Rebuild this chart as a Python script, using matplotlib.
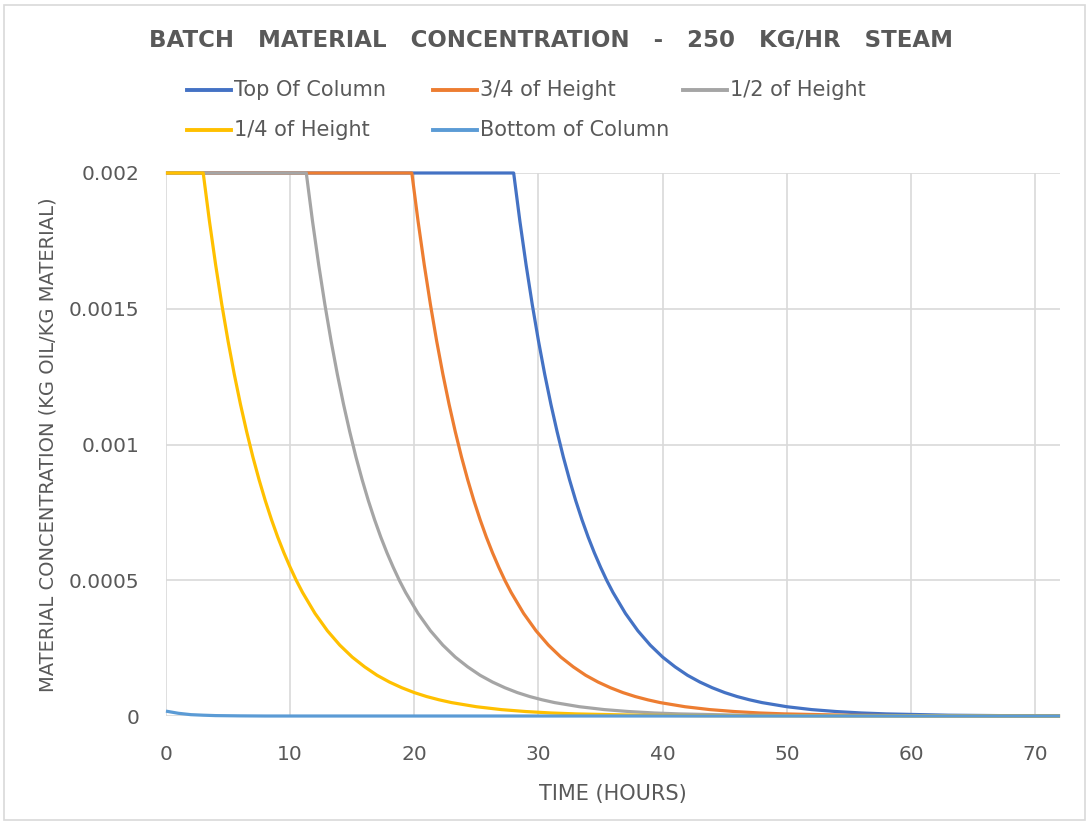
import matplotlib
matplotlib.use("Agg")
import matplotlib.pyplot as plt
from matplotlib.lines import Line2D
from matplotlib.patches import Rectangle

# Oil concentration in the batch material at five heights of the column (kg oil / kg material)
top_t = [0, 28.0, 28.5, 29.0, 29.5, 30.0, 30.5, 31.0, 31.5, 32.0, 32.5, 33.0, 33.5, 34.0, 34.5,
         35.0, 35.5, 36.0, 37.0, 38.0, 39.0, 40.0, 41.0, 42.0, 43.0, 44.0, 45.0, 46.0, 47.0,
         48.0, 50.0, 52.0, 54.0, 56.0, 58.0, 63.0, 68.0, 72.0]
top_c = [0.002, 0.002, 0.001823, 0.001662, 0.001515, 0.001381, 0.001259, 0.001148, 0.001047,
         0.000954, 0.000870, 0.000793, 0.000723, 0.000659, 0.000601, 0.000548, 0.000499,
         0.000455, 0.000378, 0.000314, 0.000261, 0.000217, 0.000181, 0.000150, 0.000125,
         0.000104, 0.0000862, 0.0000716, 0.0000596, 0.0000494, 0.0000342, 0.0000236,
         0.0000164, 0.0000112, 0.0000078, 0.0000030, 0.0000012, 0.0000005]

h34_t = [0, 19.8, 20.3, 20.8, 21.3, 21.8, 22.3, 22.8, 23.3, 23.8, 24.3, 24.8, 25.3, 25.8, 26.3,
         26.8, 27.3, 27.8, 28.8, 29.8, 30.8, 31.8, 32.8, 33.8, 34.8, 35.8, 36.8, 37.8, 38.8,
         39.8, 41.8, 43.8, 45.8, 47.8, 49.8, 54.8, 59.8, 72.0]
h34_c = [0.002, 0.002, 0.001823, 0.001662, 0.001515, 0.001381, 0.001259, 0.001148, 0.001047,
         0.000954, 0.000870, 0.000793, 0.000723, 0.000659, 0.000601, 0.000548, 0.000499,
         0.000455, 0.000378, 0.000314, 0.000261, 0.000217, 0.000181, 0.000150, 0.000125,
         0.000104, 0.0000862, 0.0000716, 0.0000596, 0.0000494, 0.0000342, 0.0000236,
         0.0000164, 0.0000112, 0.0000078, 0.0000030, 0.0000012, 0.0000001]

h12_t = [0, 11.3, 11.8, 12.3, 12.8, 13.3, 13.8, 14.3, 14.8, 15.3, 15.8, 16.3, 16.8, 17.3, 17.8,
         18.3, 18.8, 19.3, 20.3, 21.3, 22.3, 23.3, 24.3, 25.3, 26.3, 27.3, 28.3, 29.3, 30.3,
         31.3, 33.3, 35.3, 37.3, 39.3, 41.3, 46.3, 51.3, 72.0]
h12_c = [0.002, 0.002, 0.001823, 0.001662, 0.001515, 0.001381, 0.001259, 0.001148, 0.001047,
         0.000954, 0.000870, 0.000793, 0.000723, 0.000659, 0.000601, 0.000548, 0.000499,
         0.000455, 0.000378, 0.000314, 0.000261, 0.000217, 0.000181, 0.000150, 0.000125,
         0.000104, 0.0000862, 0.0000716, 0.0000596, 0.0000494, 0.0000342, 0.0000236,
         0.0000164, 0.0000112, 0.0000078, 0.0000030, 0.0000012, 0.0]

h14_t = [0, 3.0, 3.5, 4.0, 4.5, 5.0, 5.5, 6.0, 6.5, 7.0, 7.5, 8.0, 8.5, 9.0, 9.5,
         10.0, 10.5, 11.0, 12.0, 13.0, 14.0, 15.0, 16.0, 17.0, 18.0, 19.0, 20.0, 21.0, 22.0,
         23.0, 25.0, 27.0, 29.0, 31.0, 33.0, 38.0, 43.0, 72.0]
h14_c = [0.002, 0.002, 0.001823, 0.001662, 0.001515, 0.001381, 0.001259, 0.001148, 0.001047,
         0.000954, 0.000870, 0.000793, 0.000723, 0.000659, 0.000601, 0.000548, 0.000499,
         0.000455, 0.000378, 0.000314, 0.000261, 0.000217, 0.000181, 0.000150, 0.000125,
         0.000104, 0.0000862, 0.0000716, 0.0000596, 0.0000494, 0.0000342, 0.0000236,
         0.0000164, 0.0000112, 0.0000078, 0.0000030, 0.0000012, 0.0]

bot_t = [0, 1, 2, 3, 4, 5, 6, 8, 72]
bot_c = [0.000018, 0.000010, 0.000005, 0.000003, 0.0000015, 0.000001, 0.0000005, 0.0, 0.0]

series_names = ["Top Of Column", "3/4 of Height", "1/2 of Height", "1/4 of Height", "Bottom of Column"]
series_colors = ["#4472C4", "#ED7D31", "#A5A5A5", "#FFC000", "#5B9BD5"]
x_ticks = [0, 10, 20, 30, 40, 50, 60, 70]
y_ticks = [0, 0.0005, 0.001, 0.0015, 0.002]
y_tick_labels = ["0", "0.0005", "0.001", "0.0015", "0.002"]

TEXT = "#595959"
GRID = "#D9D9D9"

fig = plt.figure(figsize=(10.89, 8.23), dpi=100)
fig.patch.set_facecolor("white")
fig.add_artist(Rectangle((0.004, 0.004), 0.992, 0.99, transform=fig.transFigure,
                         fill=False, edgecolor=GRID, linewidth=1.2))

ax = fig.add_axes([0.1524, 0.13, 0.8210, 0.6598])
data = [(top_t, top_c), (h34_t, h34_c), (h12_t, h12_c), (h14_t, h14_c), (bot_t, bot_c)]
for (t, c), name, col in zip(data, series_names, series_colors):
    ax.plot(t, c, color=col, linewidth=2.3, label=name, solid_capstyle="butt", clip_on=False)

ax.set_xlim(0, 72)
ax.set_ylim(0, 0.002)
ax.set_xticks(x_ticks)
ax.set_yticks(y_ticks)
ax.set_yticklabels(y_tick_labels)
ax.grid(True, color=GRID, linewidth=1.2)
ax.set_axisbelow(True)
for s in ax.spines.values():
    s.set_visible(False)
ax.tick_params(axis="x", length=0, colors=TEXT, labelsize=14.5, pad=21)
ax.tick_params(axis="y", length=0, colors=TEXT, labelsize=14.5, pad=19)

ax.set_xlabel("TIME (HOURS)", color=TEXT, fontsize=15, labelpad=14)
ax.set_ylabel("MATERIAL CONCENTRATION (KG OIL/KG MATERIAL)", color=TEXT, fontsize=14, labelpad=8)

fig.text(0.506, 0.951, "BATCH   MATERIAL   CONCENTRATION   -   250   KG/HR   STEAM",
         ha="center", va="center", fontsize=16.5, fontweight="bold", color=TEXT)

# legend laid out in two rows
leg_pos = [(187, 90), (433, 90), (683, 90), (187, 130), (433, 130)]
W, H = 1089, 823
for (px, py), name, col in zip(leg_pos, series_names, series_colors):
    fig.add_artist(Line2D([px / W, (px + 44) / W], [1 - py / H, 1 - py / H],
                          transform=fig.transFigure, color=col, linewidth=2.8))
    fig.text((px + 47) / W, 1 - py / H, name, ha="left", va="center", fontsize=15, color=TEXT)

fig.savefig("out.png", dpi=100)
